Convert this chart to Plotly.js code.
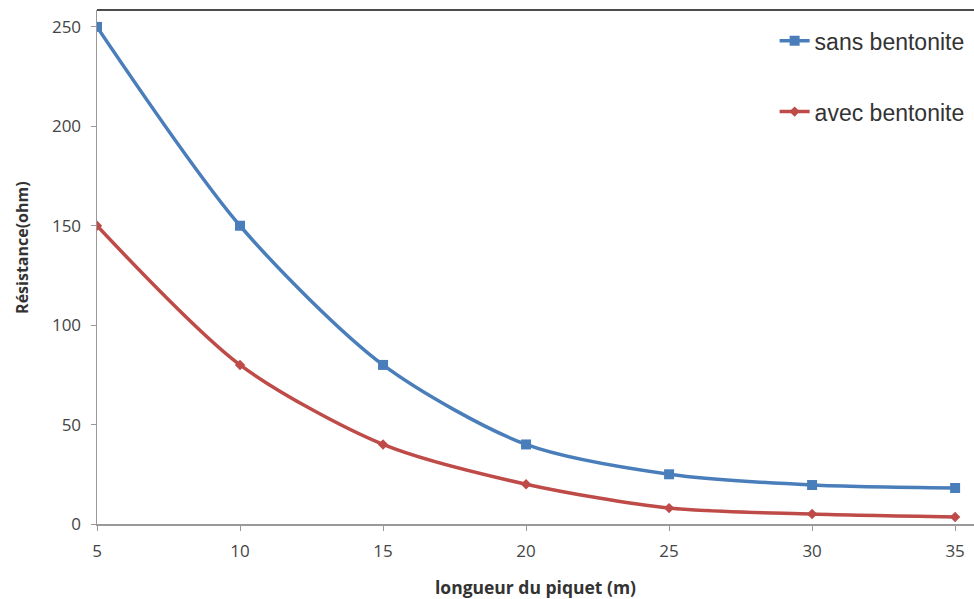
<!DOCTYPE html>
<html><head><meta charset="utf-8">
<script src="https://cdn.plot.ly/plotly-3.0.1.min.js"></script>
<style>html,body{margin:0;padding:0;background:#fff;}#chart{width:974px;height:599px;}</style>
</head><body><div id="chart"></div>
<script>
const longueur = [5, 10, 15, 20, 25, 30, 35];
const sansBentonite = [250, 150, 80, 40, 25, 19.6, 18.1];
const avecBentonite = [150, 80, 40, 20, 8, 5, 3.5];
const xTicks = [5, 10, 15, 20, 25, 30, 35];
const yTicks = [0, 50, 100, 150, 200, 250];
const yTitle = 'Résistance(ohm)';
const xTitle = 'longueur du piquet (m)';

const traces = [
  {x: longueur, y: sansBentonite, name: 'sans bentonite', mode: 'lines+markers',
   line: {color: '#4a7ebb', width: 3.5, shape: 'spline', smoothing: 0.8},
   marker: {symbol: 'square', size: 10, color: '#4a7ebb'}, legendgroup: 'a'},
  {x: longueur, y: avecBentonite, name: 'avec bentonite', mode: 'lines+markers',
   line: {color: '#be4b48', width: 3.5, shape: 'spline', smoothing: 0.8},
   marker: {symbol: 'diamond', size: 8, color: '#be4b48'}, legendgroup: 'b'}
];

const layout = {
  width: 974, height: 599,
  margin: {l: 97, r: 0, t: 10, b: 75},
  paper_bgcolor: '#fff', plot_bgcolor: '#fff',
  font: {family: 'Open Sans, Liberation Sans, sans-serif', color: '#444'},
  showlegend: true,
  legend: {x: 0.995, y: 0.982, xanchor: 'right', yanchor: 'top', traceorder: 'grouped',
           tracegroupgap: 38, font: {size: 23, family: 'Liberation Sans, Arial, sans-serif', color: '#333'},
           bgcolor: 'rgba(0,0,0,0)'},
  xaxis: {range: [5, 35.66], tickvals: xTicks, ticktext: xTicks.map(String), automargin: false,
          showgrid: false, zeroline: false, showline: true, linecolor: '#999', linewidth: 1.5,
          ticks: 'outside', ticklen: 5, tickcolor: '#999', ticklabelstandoff: 6,
          tickfont: {size: 17, color: '#444'},
          title: {text: xTitle, font: {size: 17.5, color: '#333', family: 'Open Sans, sans-serif', weight: 'bold'}, standoff: 24}},
  yaxis: {range: [0, 258.5], tickvals: yTicks, ticktext: yTicks.map(String), automargin: false,
          showgrid: false, zeroline: false, showline: true, linecolor: '#999', linewidth: 1.5,
          ticks: 'outside', ticklen: 5, tickcolor: '#999', ticklabelstandoff: 6,
          tickfont: {size: 17, color: '#444'}},
  annotations: [{text: yTitle, textangle: -90, xref: 'paper', yref: 'paper',
                 x: -0.085, y: 0.538, xanchor: 'center', yanchor: 'middle', showarrow: false,
                 font: {size: 16, color: '#333', family: 'Open Sans, sans-serif', weight: 'bold'}}],
  shapes: [{type: 'line', xref: 'paper', yref: 'paper', x0: 0, x1: 1, y0: 1, y1: 1,
            line: {color: '#111', width: 1.5}}]
};

Plotly.newPlot('chart', traces, layout, {displayModeBar: false, staticPlot: true});
</script></body></html>
